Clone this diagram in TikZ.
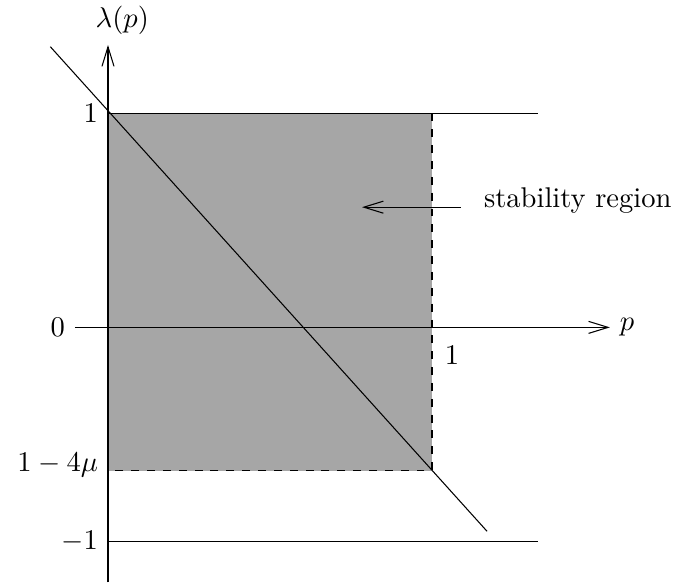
\documentclass[tikz,border=0pt]{standalone}
\usepackage{amsmath,amssymb}
\usetikzlibrary{arrows.meta,positioning,calc}
\definecolor{regionGray}{RGB}{166,166,166}

\begin{document}
\begin{tikzpicture}[
        x=4.31cm,y=2.85cm,
        axis/.style={-{Straight Barb[length=2.6mm,width=1.6mm]},thin},
        bound/.style={thin},
        edge/.style={thin,dashed},
        lab/.style={inner sep=3.3pt,scale=1.08}
      ]
        \useasboundingbox (-0.3333,-1.2056) rectangle (1.753,1.528);
        % stability region
        \fill[regionGray] (0,-0.668) rectangle (1,1);
        \draw[edge] (0,-0.668) rectangle (1,1);
        % axes
        \coordinate (xstart) at (-0.102,0);
        \coordinate (xend) at (1.549,0);
        \coordinate (ystart) at (0,-1.19);
        \coordinate (yend) at (0,1.318);
        \draw[axis] (xstart) -- (xend);
        \draw[axis] (ystart) -- (yend);
        % bounds
        \coordinate (top) at (0,1);
        \coordinate (topend) at (1.327,1);
        \coordinate (bot) at (0,-1);
        \coordinate (botend) at (1.327,-1);
        \draw[bound] (top) -- (topend);
        \draw[bound] (bot) -- (botend);
        % eigenvalue line
        \coordinate (lstart) at (-0.178,1.31);
        \coordinate (lend) at (1.17,-0.952);
        \draw[bound] (lstart) -- (lend);
        % labels
        \node[lab,anchor=south,xshift=5pt] (ylab) at (yend) {$\lambda(p)$};
        \node[lab,anchor=west] (xlab) at (xend) {$p$};
        \node[lab,anchor=east] (zero) at (xstart) {$0$};
        \node[lab,anchor=east] (one) at (top) {$1$};
        \node[lab,anchor=east] (mone) at (bot) {$-1$};
        \node[lab,anchor=east,yshift=2pt] (low) at (0,-0.668) {$1-4\mu$};
        \node[lab,anchor=north west,xshift=1pt,yshift=-3pt] (pone) at (1,0) {$1$};
        \node[lab,anchor=base west] (reg) at (1.13,0.561) {stability region};
        \coordinate (regtip) at (0.784,0.561);
        \draw[axis] ([xshift=-5pt]reg.base west) -- (regtip);
      \end{tikzpicture}
\end{document}
